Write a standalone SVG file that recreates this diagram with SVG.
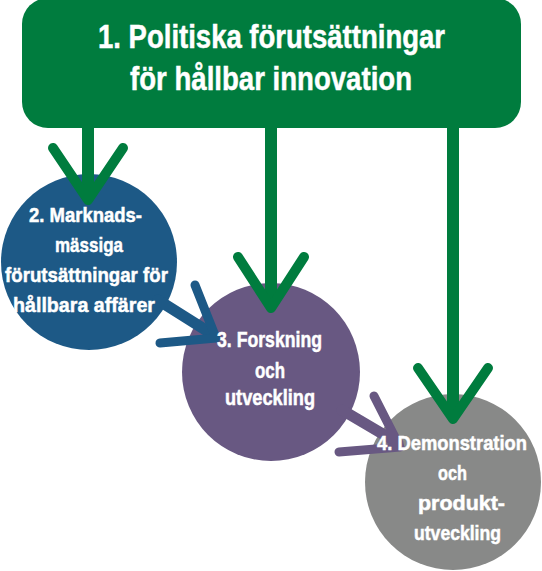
<svg xmlns="http://www.w3.org/2000/svg" width="542" height="571" viewBox="0 0 542 571">
<style>
.lbl{font-family:"Liberation Sans","Arial",sans-serif;font-weight:bold;fill:#ffffff;text-anchor:middle;stroke:#ffffff;stroke-width:0.5}
.t1{font-size:34px}
.t2{font-size:21px}
.t3{font-size:22px}
.g{stroke:#007c3e;fill:none;stroke-linecap:round;stroke-linejoin:round}
.b{stroke:#1d5986;fill:none;stroke-linecap:round;stroke-linejoin:round}
.p{stroke:#685882;fill:none;stroke-linecap:round;stroke-linejoin:round}
.shaft{stroke-width:12;stroke-linecap:butt}
.head{stroke-width:10}
</style>
<rect width="542" height="571" fill="#ffffff"/>
<g id="node1">
<rect x="22" y="-2" width="499" height="130" rx="26" fill="#007c3e"/>
</g>
<g id="node2"><circle cx="89" cy="262" r="88" fill="#1d5986"/></g>
<g id="node3"><circle cx="271" cy="372" r="89" fill="#685882"/></g>
<g id="node4"><circle cx="453" cy="482" r="88" fill="#888988"/></g>
<g id="connectors">
<line class="g shaft" x1="88" y1="120" x2="88" y2="198"/>
<polyline class="g head" points="53,148 88,200 123,148"/>
<line class="g shaft" x1="271" y1="120" x2="271" y2="306"/>
<polyline class="g head" points="238,257 271,308 304,257"/>
<line class="g shaft" x1="453" y1="120" x2="453" y2="416"/>
<polyline class="g head" points="418,368 453,419 488,368"/>
<line class="b" stroke-width="11" x1="158" y1="300" x2="212" y2="334"/>
<polyline class="b" stroke-width="9" points="195,285 216,338 160,343"/>
<line class="p" stroke-width="11" x1="342" y1="410" x2="398" y2="443"/>
<polyline class="p" stroke-width="9" points="374,396 400,447 339,452"/>
</g>
<g id="node1-label" class="lbl t1">
<text x="271.5" y="48" textLength="347" lengthAdjust="spacingAndGlyphs">1. Politiska förutsättningar</text>
<text x="271" y="90" textLength="282" lengthAdjust="spacingAndGlyphs">för hållbar innovation</text>
</g>
<g id="node2-label" class="lbl t2">
<text x="85.5" y="222" textLength="113" lengthAdjust="spacingAndGlyphs">2. Marknads-</text>
<text x="89" y="252" textLength="68" lengthAdjust="spacingAndGlyphs">mässiga</text>
<text x="86.5" y="282" textLength="163" lengthAdjust="spacingAndGlyphs">förutsättningar för</text>
<text x="84" y="312" textLength="142" lengthAdjust="spacingAndGlyphs">hållbara affärer</text>
</g>
<g id="node3-label" class="lbl t3">
<text x="269.5" y="347" textLength="105" lengthAdjust="spacingAndGlyphs">3. Forskning</text>
<text x="270" y="378" textLength="30" lengthAdjust="spacingAndGlyphs">och</text>
<text x="270" y="405" textLength="90" lengthAdjust="spacingAndGlyphs">utveckling</text>
</g>
<g id="node4-label" class="lbl t2">
<text x="452" y="450" textLength="150" lengthAdjust="spacingAndGlyphs">4. Demonstration</text>
<text x="452.5" y="480" textLength="29" lengthAdjust="spacingAndGlyphs">och</text>
<text x="461.5" y="510" textLength="87" lengthAdjust="spacingAndGlyphs">produkt-</text>
<text x="457.5" y="540" textLength="87" lengthAdjust="spacingAndGlyphs">utveckling</text>
</g>
</svg>
